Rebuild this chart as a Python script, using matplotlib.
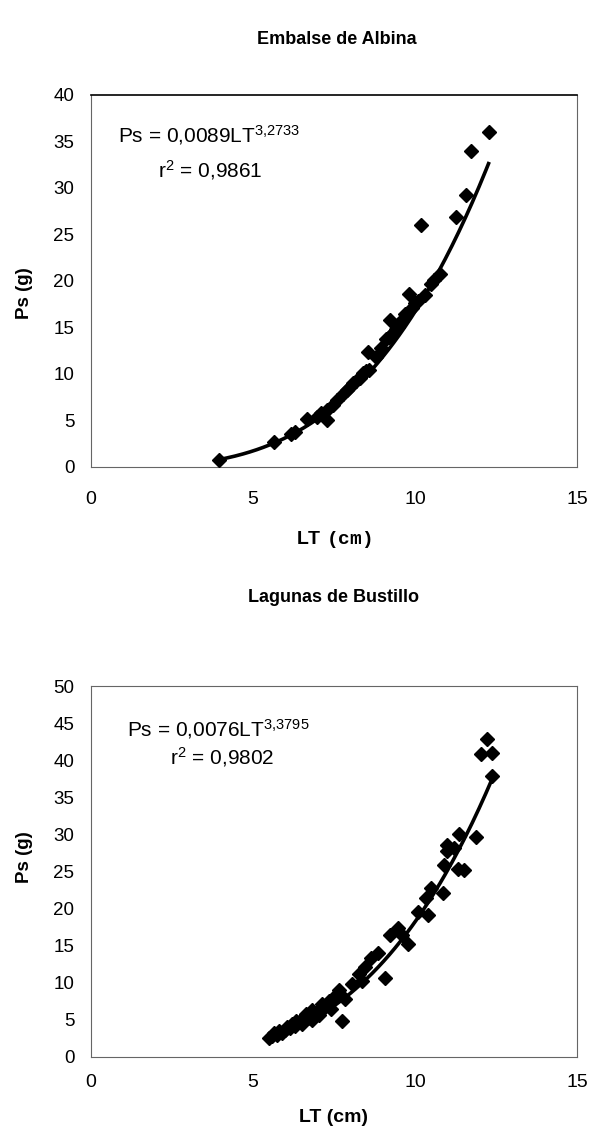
#!/usr/bin/env python3

import numpy as np
import matplotlib
matplotlib.use('Agg')
import matplotlib.pyplot as plt

plt.rcParams['font.family'] = ['Liberation Sans', 'DejaVu Sans']
plt.rcParams['mathtext.fontset'] = 'custom'
plt.rcParams['mathtext.rm'] = 'Liberation Sans'
plt.rcParams['mathtext.bf'] = 'Liberation Sans:bold'
plt.rcParams['mathtext.tt'] = 'Liberation Mono:bold'
plt.rcParams['mathtext.default'] = 'regular'

# Embalse de Albina: LT (cm) vs Ps (g)
alb_lt = [3.94, 5.66, 6.16, 6.30, 6.67, 6.97, 7.10, 7.27, 7.27, 7.47,
          7.60, 7.78, 7.90, 7.98, 8.10, 8.18, 8.30, 8.38, 8.50, 8.59,
          8.54, 8.79, 8.95, 9.09, 9.20, 9.29, 9.24, 9.40, 9.49, 9.60,
          9.70, 9.80, 9.90, 10.0, 10.1, 10.2, 10.3, 10.5, 10.6, 10.76,
          11.26, 11.57, 11.72, 12.27]
alb_ps = [0.8, 2.7, 3.6, 3.8, 5.2, 5.4, 5.8, 6.1, 5.0, 6.7,
          7.2, 7.9, 8.3, 8.6, 9.0, 9.3, 9.6, 10.1, 10.3, 10.4,
          12.4, 11.8, 12.8, 13.8, 14.0, 14.3, 15.8, 14.8, 15.1, 15.8,
          16.5, 18.6, 17.1, 17.6, 17.8, 26.0, 18.5, 19.7, 20.1, 20.8,
          26.9, 29.2, 34.0, 36.0]
alb_a, alb_b = 0.0089, 3.2733

# Lagunas de Bustillo
bus_lt = [5.50, 5.60, 5.65, 5.75, 5.80, 5.90, 6.00, 6.05, 6.15, 6.20,
          6.30, 6.32, 6.42, 6.50, 6.60, 6.63, 6.70, 6.83, 6.83, 6.90,
          7.00, 7.05, 7.14, 7.20, 7.34, 7.40, 7.55, 7.65, 7.75, 7.85,
          8.05, 8.26, 8.36, 8.46, 8.65, 8.86, 9.07, 9.22, 9.48, 9.60,
          9.79, 10.09, 10.35, 10.40, 10.50, 10.86, 10.90, 10.98, 11.0, 11.2,
          11.32, 11.37, 11.52, 11.88, 12.03, 12.21, 12.39, 12.39]
bus_ps = [2.5, 2.8, 3.2, 3.0, 3.5, 3.3, 3.6, 4.1, 3.9, 4.4,
          4.2, 4.9, 4.7, 4.5, 5.0, 5.8, 5.3, 6.3, 5.0, 5.9,
          6.2, 5.6, 7.2, 6.6, 7.6, 6.5, 8.3, 9.0, 4.9, 7.8,
          9.8, 11.2, 10.3, 12.1, 13.3, 14.0, 10.7, 16.5, 17.4, 16.5,
          15.2, 19.6, 21.4, 19.1, 22.8, 22.1, 25.9, 27.8, 28.6, 28.2,
          25.4, 30.1, 25.2, 29.7, 40.8, 42.9, 41.0, 37.9]
bus_a, bus_b = 0.0076, 3.3795


def panel(ax, lt, ps, a, b, ymax, eq, r2, eq_xy, r2_xy, xpad, ylab_y, xlab, xlab_y):
  ax.plot(lt, ps, 'D', color='black', markersize=7, zorder=3)
  xs = np.linspace(min(lt), max(lt), 200)
  ax.plot(xs, a * xs**b, color='black', lw=2.6, zorder=2)

  ax.set_xlim(0, 15)
  ax.set_ylim(0, ymax)
  ax.set_xticks([0, 5, 10, 15])
  ax.set_yticks(range(0, ymax + 1, 5))
  ax.tick_params(axis='x', length=0, pad=xpad, labelsize=14)
  ax.tick_params(axis='y', length=0, pad=12, labelsize=13.5)
  for s in ax.spines.values():
    s.set_color('#666666')
    s.set_linewidth(0.8)

  ax.text(eq_xy[0], eq_xy[1], eq, fontsize=15, va='center')
  ax.text(r2_xy[0], r2_xy[1], r2, fontsize=15, va='center')

  ax.text(-0.136, ylab_y, 'Ps (g)', transform=ax.transAxes, rotation=90,
          ha='center', va='center', fontsize=13.5, fontweight='bold')
  ax.text(0.5, xlab_y, xlab, transform=ax.transAxes,
          ha='center', va='center', fontsize=14, fontweight='bold')


def main():
  fig = plt.figure(figsize=(5.96, 11.39), dpi=100)

  ax1 = fig.add_axes([0.1527, 0.5900, 0.8154, 0.3266])
  panel(ax1, alb_lt, alb_ps, alb_a, alb_b, 40,
        'Ps = 0,0089LT$^{3{,}2733}$', 'r$^{2}$ = 0,9861',
        (0.82, 35.7), (2.08, 31.9), 17, 0.468,
        r'$\mathbf{LT}\ \mathtt{(cm)}$', -0.196)
  ax1.spines['top'].set_color('black')
  ax1.spines['top'].set_linewidth(1.2)

  ax2 = fig.add_axes([0.1527, 0.0720, 0.8154, 0.3257])
  panel(ax2, bus_lt, bus_ps, bus_a, bus_b, 50,
        'Ps = 0,0076LT$^{3{,}3795}$', 'r$^{2}$ = 0,9802',
        (1.12, 44.2), (2.43, 40.4), 12, 0.539, 'LT (cm)', -0.162)

  fig.text(0.565, 1 - 40 / 1139, 'Embalse de Albina', ha='center', va='center',
           fontsize=13, fontweight='bold')
  fig.text(0.56, 1 - 598 / 1139, 'Lagunas de Bustillo', ha='center', va='center',
           fontsize=13, fontweight='bold')

  fig.savefig('out.png', dpi=100)


if __name__ == '__main__':
  main()
